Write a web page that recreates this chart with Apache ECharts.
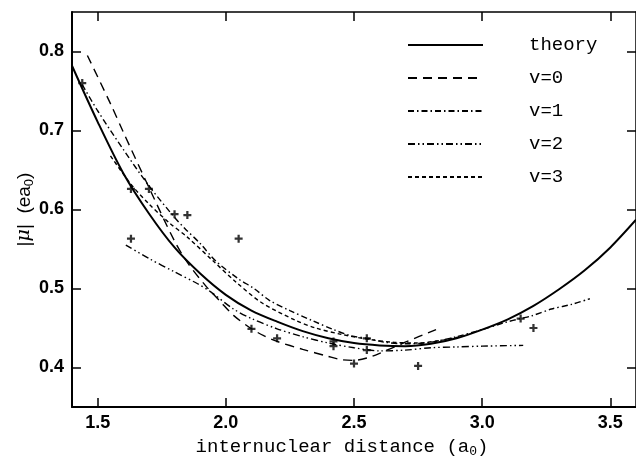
<!DOCTYPE html>
<html>
<head>
<meta charset="utf-8">
<script src="https://cdn.jsdelivr.net/npm/echarts@6/dist/echarts.min.js"></script>
<style>
  html, body { margin: 0; padding: 0; background: #fff; }
  #chart { width: 636px; height: 463px; }
</style>
</head>
<body>
<div id="chart"></div>
<script>
// values
const xTicks = [1.5, 2.0, 2.5, 3.0, 3.5];
const yTicks = [0.4, 0.5, 0.6, 0.7, 0.8];

const theoryX = [1.4, 1.5, 1.6, 1.7, 1.8, 1.9, 2.0, 2.1, 2.2, 2.3, 2.4, 2.5, 2.6, 2.7, 2.8, 2.9, 3.0, 3.1, 3.2, 3.3, 3.4, 3.5, 3.6];
const theoryY = [0.782, 0.711, 0.646, 0.595, 0.552, 0.519, 0.492, 0.472, 0.458, 0.446, 0.437, 0.431, 0.428, 0.427, 0.430, 0.437, 0.448, 0.461, 0.478, 0.499, 0.523, 0.552, 0.587];

const v0X = [1.46, 1.55, 1.6, 1.7, 1.8, 1.85, 1.92, 1.98, 2.03, 2.1, 2.15, 2.2, 2.3, 2.4, 2.45, 2.5, 2.55, 2.6, 2.7, 2.82];
const v0Y = [0.795, 0.734, 0.698, 0.628, 0.560, 0.533, 0.504, 0.483, 0.466, 0.449, 0.440, 0.433, 0.423, 0.414, 0.410, 0.409, 0.412, 0.418, 0.432, 0.448];

const v1X = [1.44, 1.5, 1.6, 1.7, 1.8, 1.84, 1.9, 1.96, 2.05, 2.11, 2.17, 2.25, 2.34, 2.42, 2.49, 2.55, 2.62, 2.7, 2.8, 2.9, 3.0, 3.09, 3.15, 3.19, 3.27, 3.35, 3.42];
const v1Y = [0.758, 0.725, 0.676, 0.630, 0.590, 0.576, 0.557, 0.535, 0.512, 0.500, 0.485, 0.472, 0.459, 0.448, 0.440, 0.437, 0.432, 0.430, 0.432, 0.439, 0.448, 0.457, 0.462, 0.465, 0.474, 0.480, 0.487];

const v2X = [1.61, 1.7, 1.8, 1.89, 1.94, 2.03, 2.1, 2.2, 2.3, 2.4, 2.5, 2.6, 2.7, 2.8, 2.9, 3.0, 3.16];
const v2Y = [0.555, 0.538, 0.521, 0.506, 0.496, 0.474, 0.462, 0.449, 0.439, 0.431, 0.425, 0.421, 0.422, 0.425, 0.426, 0.427, 0.428];

const v3X = [1.55, 1.63, 1.7, 1.78, 1.85, 1.95, 2.04, 2.14, 2.27, 2.35, 2.45, 2.55, 2.65, 2.75, 2.85, 2.93];
const v3Y = [0.668, 0.632, 0.607, 0.583, 0.565, 0.535, 0.508, 0.482, 0.460, 0.450, 0.442, 0.436, 0.432, 0.431, 0.435, 0.440];

const crossX = [1.44, 1.63, 1.70, 1.80, 1.85, 1.63, 2.05, 2.10, 2.20, 2.42, 2.42, 2.55, 2.55, 2.50, 2.75, 3.15, 3.20];
const crossY = [0.760, 0.626, 0.626, 0.594, 0.593, 0.563, 0.563, 0.449, 0.437, 0.433, 0.427, 0.437, 0.422, 0.405, 0.402, 0.462, 0.450];

const zip = (xs, ys) => xs.map((x, i) => [x, ys[i]]);
const plus = 'path://M3.6,0H6.4V3.6H10V6.4H6.4V10H3.6V6.4H0V3.6H3.6Z';

const chart = echarts.init(document.getElementById('chart'));

const tickStyle = { show: true, inside: true, length: 9, lineStyle: { color: '#000', width: 1.5 } };
const labelFont = { color: '#000', fontFamily: 'Liberation Sans', fontSize: 18, fontWeight: 'bold' };

const curve = (name, xs, ys, width, dash) => ({
    name: name,
    type: 'line',
    data: zip(xs, ys),
    smooth: 0.3,
    symbol: 'none',
    lineStyle: { color: '#000', width: width, type: dash },
    itemStyle: { color: '#000' }
});

const option = {
    animation: false,
    backgroundColor: '#fff',
    grid: { left: 72, right: -2, top: 12, bottom: 44 },
    legend: {
        orient: 'vertical',
        left: 402,
        top: 30,
        itemWidth: 75,
        itemHeight: 20,
        itemGap: 13,
        itemStyle: { opacity: 0 },
        data: ['theory', 'v=0', 'v=1', 'v=2', 'v=3'],
        textStyle: {
            color: '#000',
            fontFamily: 'Liberation Mono',
            fontSize: 19,
            lineHeight: 20,
            padding: [0, 0, 0, 41]
        }
    },
    xAxis: [{
        type: 'value',
        min: 1.4,
        max: 3.6,
        position: 'bottom',
        axisLine: { show: true, lineStyle: { color: '#000', width: 2 } },
        axisTick: Object.assign({ customValues: xTicks }, tickStyle),
        axisLabel: Object.assign({ customValues: xTicks, margin: 7, formatter: v => v.toFixed(1) }, labelFont),
        splitLine: { show: false },
        name: 'internuclear distance (a{sub|0})',
        nameLocation: 'middle',
        nameGap: 28,
        nameMoveOverlap: false,
        nameTextStyle: {
            color: '#000',
            fontFamily: 'Liberation Mono',
            fontSize: 19,
            padding: [0, 24, 0, 0],
            rich: { sub: { fontFamily: 'Liberation Mono', fontSize: 13, color: '#000', padding: [10, 0, 0, 0] } }
        }
    }, {
        type: 'value',
        min: 1.4,
        max: 3.6,
        position: 'top',
        axisLine: { show: true, lineStyle: { color: '#000', width: 1.5 } },
        axisTick: Object.assign({ customValues: xTicks }, tickStyle),
        axisLabel: { show: false },
        splitLine: { show: false }
    }],
    yAxis: [{
        type: 'value',
        min: 0.35,
        max: 0.85,
        position: 'left',
        axisLine: { show: true, lineStyle: { color: '#000', width: 2 } },
        axisTick: Object.assign({ customValues: yTicks }, tickStyle),
        axisLabel: Object.assign({ customValues: yTicks, margin: 8, formatter: v => v.toFixed(1) }, labelFont),
        splitLine: { show: false },
        name: '|{mu|μ}|  (ea{sub|0})',
        nameLocation: 'middle',
        nameGap: 36,
        nameMoveOverlap: false,
        nameTextStyle: {
            color: '#000',
            fontFamily: 'Liberation Sans',
            fontSize: 19,
            rich: {
                mu: { fontFamily: 'DejaVu Serif', fontStyle: 'italic', fontSize: 19, color: '#000' },
                sub: { fontFamily: 'Liberation Sans', fontSize: 13, color: '#000', padding: [10, 0, 0, 0] }
            }
        }
    }, {
        type: 'value',
        min: 0.35,
        max: 0.85,
        position: 'right',
        axisLine: { show: true, lineStyle: { color: '#000', width: 1.5 } },
        axisTick: Object.assign({ customValues: yTicks }, tickStyle),
        axisLabel: { show: false },
        splitLine: { show: false }
    }],
    series: [
        curve('theory', theoryX, theoryY, 2, 'solid'),
        curve('v=0', v0X, v0Y, 1.4, [9, 6]),
        curve('v=1', v1X, v1Y, 1.4, [6, 3, 1.5, 3]),
        curve('v=2', v2X, v2Y, 1.4, [7, 3, 1.5, 3, 1.5, 3]),
        curve('v=3', v3X, v3Y, 1.4, [4, 3]),
        {
            name: 'points',
            type: 'scatter',
            data: zip(crossX, crossY),
            symbol: plus,
            symbolSize: 8,
            itemStyle: { color: '#000' }
        }
    ]
};

chart.setOption(option);
</script>
</body>
</html>
